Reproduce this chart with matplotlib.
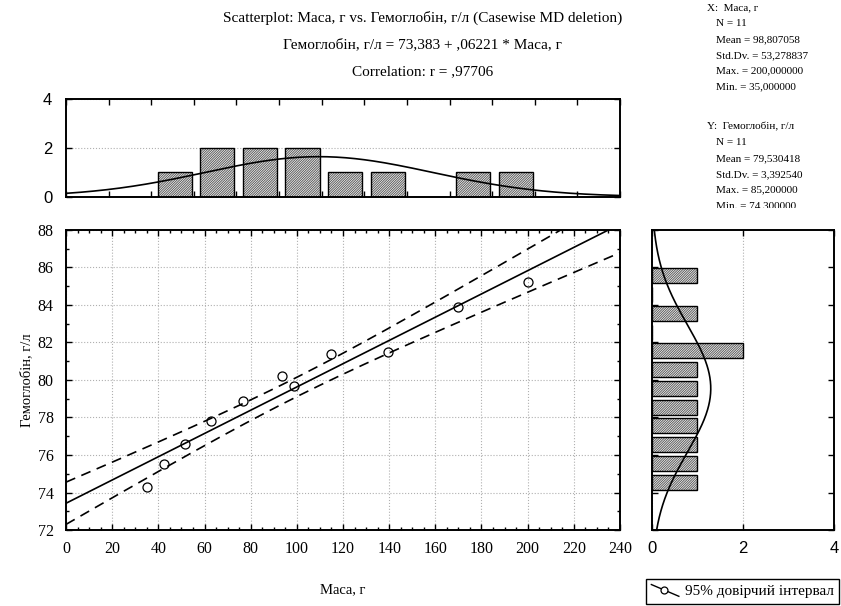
import numpy as np
import matplotlib
import matplotlib.pyplot as plt
from matplotlib.lines import Line2D
from matplotlib.legend_handler import HandlerBase
from matplotlib.ticker import MultipleLocator
from matplotlib.transforms import Bbox, TransformedBbox

matplotlib.use('Agg')
plt.rcParams['hatch.linewidth'] = 0.7

# data
mass = [35.0, 42.6, 51.6, 62.9, 76.8, 93.6, 98.6, 114.8, 139.4, 170.0, 200.0]
hb = [74.3, 75.5, 76.6, 77.8, 78.9, 80.2, 79.7, 81.4, 81.5, 83.9, 85.2]
mass_edges = np.arange(0, 201, 20)
hb_edges = np.arange(74, 87, 1)
t95 = 2.262  # t(0.975, df=9)

title_lines = ['Scatterplot: Маса, г vs. Гемоглобін, г/л (Casewise MD deletion)',
               'Гемоглобін, г/л = 73,383 + ,06221 * Маса, г',
               'Correlation: r = ,97706']
stats_x = ['X:  Маса, г', 'N = 11', 'Mean = 98,807058', 'Std.Dv. = 53,278837',
           'Max. = 200,000000', 'Min. = 35,000000']
stats_y = ['Y:  Гемоглобін, г/л', 'N = 11', 'Mean = 79,530418', 'Std.Dv. = 3,392540',
           'Max. = 85,200000', 'Min. = 74,300000']

serif = 'Liberation Serif'
sans = 'Liberation Sans'


class DiagHandler(HandlerBase):
    def create_artists(self, legend, orig_handle, xdescent, ydescent, width, height, fontsize, trans):
        ln = Line2D([0, width], [height, -0.1 * height], color='k', lw=1, transform=trans)
        mk = Line2D([width * 0.45], [height * 0.45], marker='o', ms=5, mfc='white', mec='k',
                    mew=0.9, ls='none', transform=trans)
        return [ln, mk]


def hatched_bars(ax, edges, counts, horizontal=False):
    w = edges[1] - edges[0]
    pos = edges[:-1] + 0.15 * w
    if horizontal:
        ax.barh(pos, counts, height=0.8 * w, align='edge', color='white',
                edgecolor='#5a5a5a', hatch='/' * 14, lw=0, zorder=2)
        ax.barh(pos, counts, height=0.8 * w, align='edge', fill=False,
                edgecolor='k', lw=1.0, zorder=3)
    else:
        ax.bar(pos, counts, width=0.8 * w, align='edge', color='white',
               edgecolor='#5a5a5a', hatch='/' * 14, lw=0, zorder=2)
        ax.bar(pos, counts, width=0.8 * w, align='edge', fill=False,
               edgecolor='k', lw=1.0, zorder=3)


def style_box(ax):
    for s in ax.spines.values():
        s.set_linewidth(1.4)
    ax.tick_params(which='both', direction='in', top=True, right=True, width=1.0)
    ax.tick_params(which='major', length=4)
    ax.tick_params(which='minor', length=2.5)


def normal_curve(vals, xs, bin_w):
    m = np.mean(vals)
    sd = np.std(vals, ddof=1)
    return len(vals) * bin_w * np.exp(-0.5 * ((xs - m) / sd) ** 2) / (sd * np.sqrt(2 * np.pi))


fig = plt.figure(figsize=(8.41, 6.06), dpi=100)
ax = fig.add_axes([0.0785, 0.1254, 0.6587, 0.4951])
ax_top = fig.add_axes([0.0785, 0.6754, 0.6587, 0.1607])
ax_r = fig.add_axes([0.7749, 0.1254, 0.2168, 0.4951])

# main scatter
x = np.array(mass)
y = np.array(hb)
b, a = np.polyfit(x, y, 1)
n = len(x)
xs = np.linspace(0, 240, 300)
yhat = a + b * xs
s = np.sqrt(np.sum((y - (a + b * x)) ** 2) / (n - 2))
band = t95 * s * np.sqrt(1.0 / n + (xs - x.mean()) ** 2 / np.sum((x - x.mean()) ** 2))

ax.plot(xs, yhat, color='k', lw=1.2, zorder=3)
ax.plot(xs, yhat + band, color='k', lw=1.2, ls=(0, (6, 4)), zorder=3)
ax.plot(xs, yhat - band, color='k', lw=1.2, ls=(0, (6, 4)), zorder=3)
ax.plot(x, y, 'o', ms=6.5, mfc='none', mec='k', mew=0.9, zorder=4)
ax.set_xlim(0, 240)
ax.set_ylim(72, 88)
ax.xaxis.set_major_locator(MultipleLocator(20))
ax.xaxis.set_minor_locator(MultipleLocator(5))
ax.yaxis.set_major_locator(MultipleLocator(2))
ax.yaxis.set_minor_locator(MultipleLocator(1))
ax.grid(True, which='major', color='#b0b0b0', ls=':', lw=0.8)
style_box(ax)
ax.tick_params(axis='x', which='major', pad=8)
ax.tick_params(axis='y', which='major', pad=9)
for lb in ax.get_xticklabels() + ax.get_yticklabels():
    lb.set_fontfamily(serif)
    lb.set_fontsize(11.5)
ax.set_xlabel('Маса, г', fontfamily=serif, fontsize=10.5, labelpad=19)
ax.set_ylabel('Гемоглобін, г/л', fontfamily=serif, fontsize=10.5, labelpad=3)

# top histogram
cnt_x, _ = np.histogram(mass, mass_edges)
hatched_bars(ax_top, mass_edges, cnt_x)
xt = np.linspace(-20, 240, 300)
ax_top.plot(xt, normal_curve(mass, xt, 20), color='k', lw=1.2, zorder=4)
ax_top.set_xlim(-20, 240)
ax_top.set_ylim(0, 4)
ax_top.xaxis.set_major_locator(MultipleLocator(20))
ax_top.yaxis.set_major_locator(MultipleLocator(2))
ax_top.set_xticklabels([])
ax_top.grid(True, axis='y', color='#b0b0b0', ls=':', lw=0.8)
style_box(ax_top)
ax_top.tick_params(axis='y', which='major', pad=10)
for lb in ax_top.get_yticklabels():
    lb.set_fontfamily(sans)
    lb.set_fontsize(12)

# right histogram
cnt_y, _ = np.histogram(hb, hb_edges)
hatched_bars(ax_r, hb_edges, cnt_y, horizontal=True)
yt = np.linspace(72, 88, 300)
ax_r.plot(normal_curve(hb, yt, 1), yt, color='k', lw=1.2, zorder=4)
ax_r.set_xlim(0, 4)
ax_r.set_ylim(72, 88)
ax_r.xaxis.set_major_locator(MultipleLocator(2))
ax_r.yaxis.set_major_locator(MultipleLocator(2))
ax_r.set_yticklabels([])
ax_r.grid(True, axis='x', color='#b0b0b0', ls=':', lw=0.8)
style_box(ax_r)
ax_r.tick_params(axis='x', which='major', pad=8)
for lb in ax_r.get_xticklabels():
    lb.set_fontfamily(sans)
    lb.set_fontsize(12)

# titles
for i, t in enumerate(title_lines):
    fig.text(0.502, 1 - (18 + 27 * i) / 606, t, ha='center', va='center',
             fontfamily=serif, fontsize=11)

# statistics block
clip = TransformedBbox(Bbox([[0.80, 0.657], [1.0, 1.0]]), fig.transFigure)
for block, top in ((stats_x, 8), (stats_y, 127)):
    for i, t in enumerate(block):
        xpos = 0.8407 if i == 0 else 0.8514
        txt = fig.text(xpos, 1 - (top + 15.8 * i) / 606, t, ha='left', va='center',
                       fontfamily=serif, fontsize=8)
        txt.set_clip_box(clip)
        txt.set_clip_on(True)

# legend
handle = Line2D([], [], color='k')
leg = fig.legend([handle], ['95% довірчий інтервал'], handler_map={Line2D: DiagHandler()},
                 loc='lower right', bbox_to_anchor=(0.998, 0.004), frameon=True,
                 fancybox=False, edgecolor='k', framealpha=1,
                 prop={'family': serif, 'size': 11}, handlelength=1.8,
                 handletextpad=0.4, borderpad=0.35, borderaxespad=0)
leg.get_frame().set_linewidth(1.0)

fig.savefig('out.png', dpi=100)
